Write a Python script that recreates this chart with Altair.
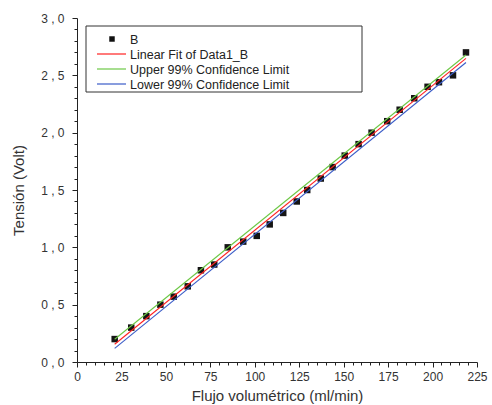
import altair as alt
import pandas as pd

# ---- data ----
flow = [21.2, 30.5, 39.0, 46.9, 54.4, 62.3, 69.7, 77.2, 84.8, 93.5, 101.1, 108.4,
        116.0, 123.6, 129.5, 137.1, 143.8, 150.6, 158.4, 165.7, 174.5, 181.5,
        189.7, 197.2, 203.6, 211.5, 218.8]
volt = [0.20, 0.30, 0.40, 0.50, 0.57, 0.66, 0.80, 0.85, 1.00, 1.05, 1.10, 1.20,
        1.30, 1.40, 1.50, 1.60, 1.70, 1.80, 1.90, 2.00, 2.10, 2.20,
        2.30, 2.40, 2.44, 2.50, 2.70]

line_x = [21.2, 218.8]
fit_y = [0.155, 2.648]
upper_y = [0.198, 2.677]
lower_y = [0.119, 2.612]

series_names = ["B", "Linear Fit of Data1_B", "Upper 99% Confidence Limit",
                "Lower 99% Confidence Limit"]
series_colors = ["#111111", "#ff2020", "#6cc845", "#3a5cc8"]

x_ticks = [v for v in range(0, 230, 5)]
y_ticks = [round(i * 0.1, 1) for i in range(0, 31)]

FONT = "Liberation Sans"

pts = pd.DataFrame({"x": flow, "y": volt})
lines = pd.DataFrame({
    "x": line_x * 3,
    "y": upper_y + fit_y + lower_y,
    "s": [series_names[2]] * 2 + [series_names[1]] * 2 + [series_names[3]] * 2,
})
one = pd.DataFrame({"k": [0]})

xscale = alt.Scale(domain=[0, 225], nice=False, zero=False)
yscale = alt.Scale(domain=[0, 3.0], nice=False, zero=False)

x_axis = alt.Axis(
    values=x_ticks,
    tickSize={"condition": {"test": "datum.value % 25 === 0", "value": 5}, "value": 3},
    labelExpr="datum.value % 25 === 0 ? datum.label : ''",
    grid=False, title="Flujo volumétrico (ml/min)", titlePadding=6,
    labelPadding=4, labelFlush=False, labelOverlap=False,
)
y_axis = alt.Axis(
    values=y_ticks,
    tickSize={"condition": {"test": "round(datum.value*10) % 5 === 0", "value": 5}, "value": 3},
    labelExpr="round(datum.value*10) % 5 === 0 ? replace(format(datum.value, '.1f'), '.', ' , ') : ''",
    grid=False, title="Tensión (Volt)", titlePadding=14,
    labelPadding=8, labelFlush=False, labelOverlap=False,
)

points = alt.Chart(pts).mark_square(size=42, color="#151515", opacity=1).encode(
    x=alt.X("x:Q", scale=xscale, axis=x_axis),
    y=alt.Y("y:Q", scale=yscale, axis=y_axis),
)

fit_lines = alt.Chart(lines).mark_line(strokeWidth=1.1).encode(
    x=alt.X("x:Q", scale=xscale, axis=x_axis),
    y=alt.Y("y:Q", scale=yscale, axis=y_axis),
    detail="s:N",
    color=alt.Color("s:N", scale=alt.Scale(domain=series_names[1:], range=series_colors[1:]), legend=None),
    order=alt.Order("x:Q"),
)

# ---- legend box drawn by hand ----
layers = [points, fit_lines]
layers.append(alt.Chart(one).mark_rect(fill="white", stroke="#333333", strokeWidth=1).encode(
    x=alt.value(9), x2=alt.value(285), y=alt.value(8), y2=alt.value(74)))
row_y = [21, 36, 51, 66]
for i, (name, col) in enumerate(zip(series_names, series_colors)):
    if i == 0:
        layers.append(alt.Chart(one).mark_square(size=30, color=col, opacity=1).encode(
            x=alt.value(35), y=alt.value(row_y[i])))
    else:
        layers.append(alt.Chart(one).mark_rule(color=col, strokeWidth=1.2).encode(
            x=alt.value(20), x2=alt.value(49), y=alt.value(row_y[i])))
    layers.append(alt.Chart(one).mark_text(
        text=name, align="left", baseline="middle", font=FONT, fontSize=12.5,
        color="#222222").encode(x=alt.value(53), y=alt.value(row_y[i] + 1)))

chart = alt.layer(*layers).properties(
    width=400, height=344,
    padding={"left": 77, "top": 18, "right": 15, "bottom": 43},
    autosize=alt.AutoSizeParams(type="none"),
).configure_view(stroke=None).configure_axis(
    labelFont=FONT, labelFontSize=12, labelColor="#333333",
    titleFont=FONT, titleFontSize=15, titleFontWeight="normal", titleColor="#333333",
    domainColor="#222222", tickColor="#222222", domainWidth=1, tickWidth=1,
)

chart.save("out.html", embed_options={"renderer": "svg", "actions": False})
